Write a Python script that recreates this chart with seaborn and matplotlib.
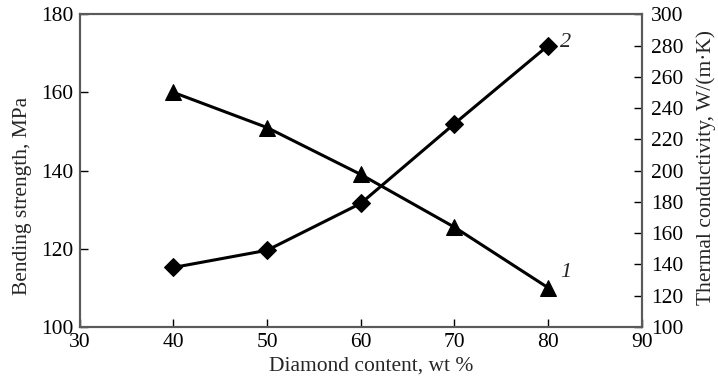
import pandas as pd
import matplotlib.pyplot as plt
import seaborn as sns

# Data
diamond_content = [40, 50, 60, 70, 80]
bending_strength = [160, 151, 139, 125.5, 110]        # curve 1, left axis (MPa)
thermal_conductivity = [138, 149, 179, 230, 280]     # curve 2, right axis (W/(m*K))

x_ticks = [30, 40, 50, 60, 70, 80, 90]
left_ticks = [100, 120, 140, 160, 180]
right_ticks = list(range(100, 301, 20))

df = pd.DataFrame({
    'content': diamond_content,
    'strength': bending_strength,
    'conductivity': thermal_conductivity,
})

sns.set_style('ticks')
plt.rcParams['font.family'] = ['Liberation Serif', 'DejaVu Serif']

fig, ax = plt.subplots(figsize=(7.18, 3.85), dpi=100)
fig.subplots_adjust(left=0.111, right=0.894, top=0.963, bottom=0.151)
ax2 = ax.twinx()

sns.lineplot(data=df, x='content', y='strength', ax=ax, color='black',
             marker='^', markersize=11, linewidth=2.2, markeredgecolor='black')
sns.lineplot(data=df, x='content', y='conductivity', ax=ax2, color='black',
             marker='D', markersize=9, linewidth=2.2, markeredgecolor='black')

ax.set_xlim(30, 90)
ax.set_ylim(100, 180)
ax2.set_ylim(100, 300)
ax.set_xticks(x_ticks)
ax.set_yticks(left_ticks)
ax2.set_yticks(right_ticks)

for a in (ax, ax2):
    a.tick_params(direction='in', length=6, width=1, labelsize=15.5, colors='black')
    for s in a.spines.values():
        s.set_color('#5a5a5a')
        s.set_linewidth(1.5)
ax.tick_params(axis='x', pad=4.5)
ax.tick_params(axis='y', pad=4.5)
ax2.tick_params(axis='y', pad=6.5)

ax.set_xlabel('Diamond content, wt %', fontsize=15.5)
ax.set_ylabel('Bending strength, MPa', fontsize=15.5)
ax2.set_ylabel('Thermal conductivity, W/(m·K)', fontsize=15.5)
ax.xaxis.set_label_coords(0.518, -0.095)
ax.yaxis.set_label_coords(-0.085, 0.42)
ax2.yaxis.set_label_coords(1.097, 0.51)

ax.text(81.9, 114, '1', fontsize=16, style='italic', ha='center', va='center')
ax2.text(81.9, 282, '2', fontsize=16, style='italic', ha='center', va='center')

plt.savefig('out.png', dpi=100)
